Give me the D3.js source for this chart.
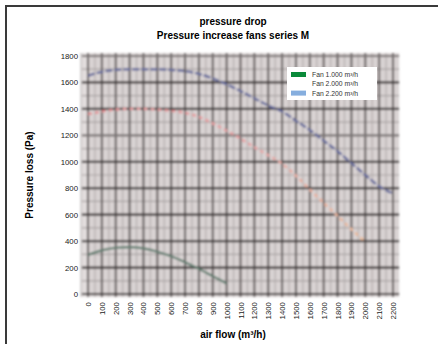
<!DOCTYPE html>
<html>
<head>
<meta charset="utf-8">
<script src="https://cdn.jsdelivr.net/npm/d3@7"></script>
<style>
  body { margin: 0; background: #fff; }
  svg { font-family: "Liberation Sans", Arial, sans-serif; }
</style>
</head>
<body>
<div id="chart"></div>
<script>
// Tick labels
var xTicks = [0, 100, 200, 300, 400, 500, 600, 700, 800, 900, 1000, 1100,
              1200, 1300, 1400, 1500, 1600, 1700, 1800, 1900, 2000, 2100, 2200];
var yTicks = [0, 200, 400, 600, 800, 1000, 1200, 1400, 1600, 1800];

// Fan curves (air flow m3/h -> pressure Pa)
var fan1000Flow = [0, 100, 200, 300, 400, 500, 600, 700, 800, 900, 1000];
var fan1000Pa   = [295, 330, 350, 355, 345, 320, 285, 240, 190, 135, 80];

var fan2000Flow = [0, 100, 200, 300, 400, 500, 600, 700, 800, 900, 1000,
                   1100, 1200, 1300, 1400, 1500, 1600, 1700, 1800, 1900, 2000];
var fan2000Pa   = [1360, 1380, 1395, 1400, 1400, 1395, 1385, 1370, 1340, 1290, 1235,
                   1175, 1110, 1050, 985, 895, 790, 690, 590, 490, 395];

var fan2200Flow = [0, 100, 200, 300, 400, 500, 600, 700, 800, 900, 1000, 1100,
                   1200, 1300, 1400, 1500, 1600, 1700, 1800, 1900, 2000, 2100, 2200];
var fan2200Pa   = [1650, 1680, 1695, 1700, 1700, 1700, 1695, 1685, 1665, 1630, 1585, 1535,
                   1480, 1425, 1380, 1310, 1240, 1160, 1080, 990, 900, 815, 760];

var legendLabels = ["Fan 1.000 m\u00b3/h", "Fan 2.000 m\u00b3/h", "Fan 2.200 m\u00b3/h"];
var legendColors = ["#0a8a3a", "none", "#86aede"];

var W = 438, H = 344;

var svg = d3.select("#chart").append("svg")
    .attr("width", W)
    .attr("height", H);

// Scales
var x = d3.scaleLinear().domain([0, 2200]).range([88, 393]);
var y = d3.scaleLinear().domain([0, 1800]).range([294, 56]);

// Frame lines (left and top)
svg.append("path")
    .attr("d", "M6,344 L6,6 L438,6")
    .attr("fill", "none")
    .attr("stroke", "#3a3a3a")
    .attr("stroke-width", 2);

// Titles
svg.append("text").attr("x", 233).attr("y", 25)
    .attr("text-anchor", "middle").attr("font-size", 10).attr("font-weight", "bold")
    .text("pressure drop");
svg.append("text").attr("x", 233).attr("y", 39)
    .attr("text-anchor", "middle").attr("font-size", 10).attr("font-weight", "bold")
    .text("Pressure increase fans series M");

// Blur filter to mimic the scanned background image
var defs = svg.append("defs");
defs.append("filter").attr("id", "blur")
    .attr("x", "-5%").attr("y", "-5%").attr("width", "110%").attr("height", "110%")
    .append("feGaussianBlur").attr("stdDeviation", 1.0);

var grad = defs.append("linearGradient").attr("id", "redGrad")
    .attr("gradientUnits", "userSpaceOnUse")
    .attr("x1", x(0)).attr("x2", x(2000)).attr("y1", 0).attr("y2", 0);
grad.append("stop").attr("offset", "0%").attr("stop-color", "#e58f92");
grad.append("stop").attr("offset", "60%").attr("stop-color", "#e8a2a4");
grad.append("stop").attr("offset", "100%").attr("stop-color", "#ebbb98");

var plot = svg.append("g").attr("filter", "url(#blur)");

var x0 = x(-43), x1 = x(2244), yTop = y(1822), yBot = y(-23);

plot.append("rect")
    .attr("x", x0).attr("y", yTop)
    .attr("width", x1 - x0).attr("height", yBot - yTop)
    .attr("fill", "#d9d3d3");

// faint light column near the left edge
plot.append("rect")
    .attr("x", x0).attr("y", yTop)
    .attr("width", x(0) - x0).attr("height", yBot - yTop)
    .attr("fill", "#e2dddd");

// light grid lines (half steps)
var minorV = d3.range(-50, 2250, 100);
plot.selectAll(".vminor").data(minorV).enter().append("line")
    .attr("x1", d => x(d)).attr("x2", d => x(d))
    .attr("y1", yTop).attr("y2", yBot)
    .attr("stroke", "#b3adad").attr("stroke-width", 1.2);

var minorH = d3.range(100, 1800, 200);
plot.selectAll(".hminor").data(minorH).enter().append("line")
    .attr("x1", x0).attr("x2", x1)
    .attr("y1", d => y(d)).attr("y2", d => y(d))
    .attr("stroke", "#a9a3a3").attr("stroke-width", 1.2);

// dark grid lines
plot.selectAll(".vmajor").data(xTicks).enter().append("line")
    .attr("x1", d => x(d)).attr("x2", d => x(d))
    .attr("y1", yTop).attr("y2", yBot)
    .attr("stroke", "#5e5858").attr("stroke-width", 2);

plot.selectAll(".hmajor").data(yTicks).enter().append("line")
    .attr("x1", x0).attr("x2", x1)
    .attr("y1", d => y(d)).attr("y2", d => y(d))
    .attr("stroke", d => (d === 1200 || d === 1800) ? "#7a7474" : "#3a3535")
    .attr("stroke-width", 2.2);

// Curves
var line = d3.line()
    .x(d => x(d[0]))
    .y(d => y(d[1]))
    .curve(d3.curveMonotoneX);

plot.append("path")
    .datum(d3.zip(fan2200Flow, fan2200Pa))
    .attr("d", line)
    .attr("fill", "none")
    .attr("stroke", "#666c9c")
    .attr("stroke-width", 2.4)
    .attr("stroke-dasharray", "7,2");

plot.append("path")
    .datum(d3.zip(fan2000Flow, fan2000Pa))
    .attr("d", line)
    .attr("fill", "none")
    .attr("stroke", "url(#redGrad)")
    .attr("stroke-width", 2.4)
    .attr("stroke-dasharray", "4,3");

plot.append("path")
    .datum(d3.zip(fan1000Flow, fan1000Pa))
    .attr("d", line)
    .attr("fill", "none")
    .attr("stroke", "#5f7c6e")
    .attr("stroke-width", 2.2);

// Axes
var yAxis = d3.axisLeft(y).tickValues(yTicks).tickSize(0).tickPadding(4)
    .tickFormat(d3.format("d"));
var gy = svg.append("g")
    .attr("transform", "translate(" + x0 + ",0)")
    .call(yAxis);
gy.select(".domain").remove();
gy.selectAll("text").attr("font-size", 7.8).attr("fill", "#222")
    .attr("font-family", "Liberation Sans, Arial, sans-serif");

var xAxis = d3.axisBottom(x).tickValues(xTicks).tickSize(0).tickPadding(0)
    .tickFormat(d3.format("d"));
var gx = svg.append("g")
    .attr("transform", "translate(0," + yBot + ")")
    .call(xAxis);
gx.select(".domain").remove();
gx.selectAll("text")
    .attr("font-size", 7.8).attr("fill", "#222")
    .attr("font-family", "Liberation Sans, Arial, sans-serif")
    .attr("transform", "rotate(-90)")
    .attr("text-anchor", "end")
    .attr("x", -5)
    .attr("y", 0)
    .attr("dy", "0.32em");

// Axis titles
svg.append("text")
    .attr("transform", "translate(33,175) rotate(-90)")
    .attr("text-anchor", "middle")
    .attr("font-size", 10).attr("font-weight", "bold")
    .text("Pressure loss (Pa)");

svg.append("text")
    .attr("x", 233).attr("y", 338)
    .attr("text-anchor", "middle")
    .attr("font-size", 10).attr("font-weight", "bold")
    .text("air flow (m\u00b3/h)");

// Legend
var legend = svg.append("g").attr("transform", "translate(287,67)");
legend.append("rect")
    .attr("width", 90).attr("height", 33)
    .attr("fill", "#fff");
var items = legend.selectAll(".item").data(legendLabels).enter().append("g")
    .attr("transform", (d, i) => "translate(4," + (5 + i * 9.3) + ")");
items.append("rect")
    .attr("width", 15).attr("height", 5)
    .attr("fill", (d, i) => legendColors[i]);
items.append("text")
    .attr("x", 21).attr("y", 5)
    .attr("font-size", 6.8).attr("fill", "#333")
    .text(d => d);
</script>
</body>
</html>
